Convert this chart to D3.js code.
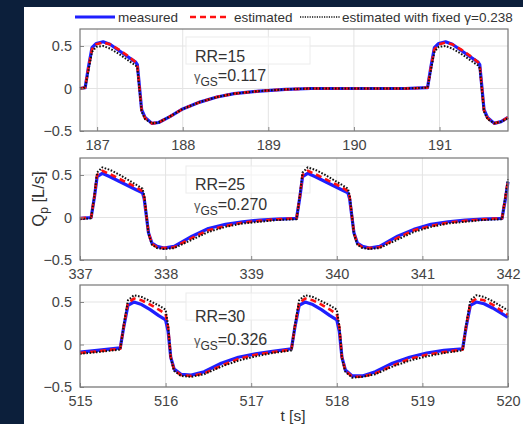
<!DOCTYPE html>
<html>
<head>
<meta charset="utf-8">
<script src="https://cdn.jsdelivr.net/npm/d3@7"></script>
<style>
  body { margin: 0; background: #0c1f3b; }
  svg { display: block; font-family: "Liberation Sans", Arial, sans-serif; }
  .tick text { fill: #444; font-size: 14.5px; }
  .grid line { stroke: #e3e3e3; stroke-width: 1; }
</style>
</head>
<body>
<script>
// W and H
var w = 523;
var h = 424;

// panel labels
var rrLabels = ["RR=15", "RR=25", "RR=30"];
var gammaLabels = ["=0.117", "=0.270", "=0.326"];
var yTicks = [-0.5, 0, 0.5];

// x domains (s) and tick values per panel
var xDomains = [[186.8, 191.8], [337, 342], [515, 520]];
var xTicks = [[187, 188, 189, 190, 191], [337, 338, 339, 340, 341, 342], [515, 516, 517, 518, 519, 520]];

// RR=15 traces
var t1 = [186.80, 186.86, 186.90, 186.94, 186.99, 187.07, 187.15, 187.25, 187.35, 187.45, 187.47, 187.52, 187.56, 187.64, 187.72, 187.85, 188.00, 188.20, 188.40, 188.60, 188.90, 189.20, 189.50, 189.90, 190.30, 190.60, 190.86, 190.90, 190.94, 190.99, 191.07, 191.15, 191.25, 191.35, 191.45, 191.47, 191.52, 191.56, 191.64, 191.72, 191.80];
var meas1 = [0.00, 0.01, 0.26, 0.48, 0.53, 0.55, 0.52, 0.45, 0.38, 0.31, 0.28, -0.25, -0.34, -0.41, -0.40, -0.33, -0.24, -0.16, -0.10, -0.06, -0.03, -0.01, 0.00, 0.00, 0.00, 0.00, 0.01, 0.26, 0.48, 0.53, 0.55, 0.52, 0.45, 0.38, 0.31, 0.28, -0.25, -0.34, -0.41, -0.39, -0.34];
var est1 = [0.00, 0.01, 0.25, 0.46, 0.52, 0.54, 0.52, 0.46, 0.39, 0.31, 0.27, -0.26, -0.35, -0.41, -0.40, -0.33, -0.24, -0.16, -0.10, -0.06, -0.03, -0.01, 0.00, 0.00, 0.00, 0.00, 0.01, 0.25, 0.46, 0.52, 0.54, 0.52, 0.46, 0.39, 0.31, 0.27, -0.26, -0.35, -0.41, -0.39, -0.34];
var fix1 = [0.00, 0.01, 0.22, 0.43, 0.49, 0.50, 0.47, 0.41, 0.34, 0.27, 0.24, -0.27, -0.36, -0.41, -0.40, -0.33, -0.24, -0.16, -0.10, -0.06, -0.03, -0.01, 0.00, 0.00, 0.00, 0.00, 0.01, 0.22, 0.43, 0.49, 0.50, 0.47, 0.41, 0.34, 0.27, 0.24, -0.27, -0.36, -0.41, -0.39, -0.35];

// RR=25 traces
var t2 = [337.00, 337.13, 337.17, 337.20, 337.26, 337.35, 337.45, 337.55, 337.65, 337.73, 337.75, 337.80, 337.84, 337.90, 337.98, 338.10, 338.31, 338.50, 338.70, 338.90, 339.10, 339.30, 339.53, 339.57, 339.60, 339.66, 339.75, 339.85, 339.95, 340.05, 340.13, 340.15, 340.20, 340.24, 340.30, 340.38, 340.50, 340.71, 340.90, 341.10, 341.30, 341.50, 341.70, 341.93, 341.97, 342.00];
var meas2 = [-0.01, 0.00, 0.25, 0.48, 0.52, 0.48, 0.43, 0.38, 0.33, 0.29, 0.22, -0.18, -0.30, -0.34, -0.36, -0.34, -0.22, -0.13, -0.08, -0.05, -0.03, -0.02, -0.01, 0.25, 0.48, 0.52, 0.48, 0.43, 0.38, 0.33, 0.29, 0.22, -0.18, -0.30, -0.34, -0.36, -0.34, -0.22, -0.14, -0.08, -0.05, -0.03, -0.02, -0.01, 0.22, 0.42];
var est2 = [-0.01, 0.00, 0.26, 0.50, 0.55, 0.51, 0.46, 0.41, 0.36, 0.31, 0.24, -0.18, -0.31, -0.35, -0.36, -0.35, -0.24, -0.15, -0.10, -0.06, -0.04, -0.02, -0.01, 0.26, 0.50, 0.55, 0.51, 0.46, 0.41, 0.36, 0.31, 0.24, -0.18, -0.31, -0.35, -0.36, -0.35, -0.24, -0.15, -0.10, -0.06, -0.04, -0.02, -0.01, 0.24, 0.44];
var fix2 = [-0.02, -0.01, 0.27, 0.53, 0.59, 0.56, 0.51, 0.45, 0.39, 0.34, 0.26, -0.19, -0.32, -0.36, -0.37, -0.36, -0.26, -0.17, -0.11, -0.07, -0.05, -0.03, -0.02, 0.27, 0.53, 0.59, 0.56, 0.51, 0.45, 0.39, 0.34, 0.26, -0.19, -0.32, -0.36, -0.37, -0.36, -0.26, -0.17, -0.11, -0.07, -0.05, -0.03, -0.02, 0.25, 0.45];

// RR=30 traces
var t3 = [515.00, 515.20, 515.47, 515.51, 515.56, 515.63, 515.72, 515.82, 515.92, 516.00, 516.03, 516.06, 516.10, 516.18, 516.30, 516.45, 516.65, 516.85, 517.05, 517.25, 517.47, 517.51, 517.56, 517.63, 517.72, 517.82, 517.92, 518.00, 518.03, 518.06, 518.10, 518.18, 518.30, 518.45, 518.65, 518.85, 519.05, 519.25, 519.47, 519.51, 519.56, 519.63, 519.72, 519.82, 519.92, 520.00];
var meas3 = [-0.09, -0.07, -0.04, 0.20, 0.46, 0.50, 0.47, 0.41, 0.34, 0.29, 0.15, -0.15, -0.29, -0.35, -0.36, -0.32, -0.22, -0.15, -0.11, -0.08, -0.05, 0.20, 0.46, 0.50, 0.47, 0.41, 0.34, 0.29, 0.15, -0.15, -0.30, -0.37, -0.37, -0.32, -0.22, -0.15, -0.10, -0.07, -0.05, 0.20, 0.46, 0.50, 0.48, 0.43, 0.37, 0.32];
var est3 = [-0.10, -0.08, -0.05, 0.21, 0.49, 0.54, 0.52, 0.47, 0.41, 0.36, 0.20, -0.15, -0.30, -0.36, -0.37, -0.34, -0.25, -0.17, -0.12, -0.09, -0.06, 0.21, 0.49, 0.54, 0.52, 0.47, 0.41, 0.36, 0.20, -0.15, -0.31, -0.38, -0.38, -0.34, -0.25, -0.17, -0.12, -0.09, -0.06, 0.21, 0.49, 0.54, 0.52, 0.47, 0.40, 0.35];
var fix3 = [-0.11, -0.09, -0.06, 0.22, 0.52, 0.58, 0.56, 0.51, 0.46, 0.41, 0.22, -0.16, -0.31, -0.37, -0.38, -0.35, -0.26, -0.19, -0.14, -0.10, -0.07, 0.22, 0.52, 0.58, 0.56, 0.51, 0.46, 0.41, 0.22, -0.16, -0.32, -0.39, -0.38, -0.35, -0.26, -0.19, -0.14, -0.10, -0.07, 0.22, 0.52, 0.58, 0.56, 0.51, 0.45, 0.40];

var times = [t1, t2, t3];
var measured = [meas1, meas2, meas3];
var estimated = [est1, est2, est3];
var fixedGamma = [fix1, fix2, fix3];

// layout
var left = 80, right = 508, ph = 102;
var tops = [29, 158, 285];
var rrOffset = [33, 32, 37];
var gOffset = [52, 52, 60];

var styles = [
  {name: "measured", color: "#1f1fff", width: 3.2, dash: null},
  {name: "estimated", color: "#ff1010", width: 2.6, dash: "6,4"},
  {name: "estimated with fixed \u03b3=0.238", color: "#111", width: 2, dash: "1.6,1.6"}
];

var svg = d3.select("body").append("svg")
  .attr("width", w)
  .attr("height", h);

// white figure area
svg.append("rect")
  .attr("x", 24).attr("y", 7)
  .attr("width", w - 24).attr("height", h - 7)
  .attr("fill", "#fff");

var x = d3.scaleLinear().range([left, right]);

tops.forEach(function(top, i) {
  x.domain(xDomains[i]);
  var y = d3.scaleLinear().domain([-0.5, 0.7]).range([top + ph, top]);

  var g = svg.append("g");

  // grid
  g.append("g").attr("class", "grid")
    .selectAll("line.v").data(xTicks[i]).enter().append("line")
    .attr("x1", function(d) { return x(d); }).attr("x2", function(d) { return x(d); })
    .attr("y1", top).attr("y2", top + ph);
  g.append("g").attr("class", "grid")
    .selectAll("line.h").data(yTicks).enter().append("line")
    .attr("x1", left).attr("x2", right)
    .attr("y1", function(d) { return y(d); }).attr("y2", function(d) { return y(d); });

  // annotation box
  g.append("rect")
    .attr("x", 186).attr("y", top + 8)
    .attr("width", 124).attr("height", 27)
    .attr("fill", "#fff").attr("fill-opacity", 0.6)
    .attr("stroke", "#ececec");

  // traces
  var data = d3.range(times[i].length).map(function(k) {
    return {t: times[i][k], m: measured[i][k], e: estimated[i][k], f: fixedGamma[i][k]};
  });
  ["m", "e", "f"].forEach(function(key, s) {
    var line = d3.line()
      .x(function(d) { return x(d.t); })
      .y(function(d) { return y(d[key]); });
    g.append("path")
      .datum(data)
      .attr("fill", "none")
      .attr("stroke", styles[s].color)
      .attr("stroke-width", styles[s].width)
      .attr("stroke-dasharray", styles[s].dash)
      .attr("stroke-linejoin", "round")
      .attr("d", line);
  });

  // annotation text
  g.append("text")
    .attr("x", 195).attr("y", top + rrOffset[i])
    .attr("fill", "#333").style("font-size", "16px")
    .text(rrLabels[i]);
  var gt = g.append("text")
    .attr("x", 194).attr("y", top + gOffset[i])
    .attr("fill", "#333").style("font-size", "16px");
  gt.append("tspan").style("font-size", "13px").attr("fill", "#555").text("\u03b3");
  gt.append("tspan").attr("dy", 5).style("font-size", "12px").text("GS");
  gt.append("tspan").attr("dy", -5).text(gammaLabels[i]);

  // axes
  var xAxis = d3.axisBottom(x).tickValues(xTicks[i]).tickSize(-4).tickPadding(9).tickFormat(d3.format("d"));
  var yAxis = d3.axisLeft(y).tickValues(yTicks).tickSize(-4).tickPadding(8).tickFormat(function(d) { return d === 0 ? "0" : d3.format(".1f")(d); });

  var xa = g.append("g").attr("transform", "translate(0," + (top + ph) + ")").call(xAxis);
  var ya = g.append("g").attr("transform", "translate(" + left + ",0)").call(yAxis);
  [xa, ya].forEach(function(a) {
    a.select(".domain").remove();
    a.selectAll(".tick line").attr("stroke", "#888");
  });

  // box
  g.append("rect")
    .attr("x", left).attr("y", top)
    .attr("width", right - left).attr("height", ph)
    .attr("fill", "none").attr("stroke", "#777").attr("stroke-width", 1.2);
});

// legend
var legX = [75, 190, 300];
var legTextX = [118, 234, 342];
styles.forEach(function(s, i) {
  svg.append("line")
    .attr("x1", legX[i]).attr("x2", legX[i] + 40)
    .attr("y1", 17).attr("y2", 17)
    .attr("stroke", s.color)
    .attr("stroke-width", i === 2 ? 1.6 : s.width)
    .attr("stroke-dasharray", i === 2 ? "1.2,1.2" : s.dash);
  svg.append("text")
    .attr("x", legTextX[i]).attr("y", 21.5)
    .attr("fill", "#333").style("font-size", "13.5px")
    .text(s.name);
});

// axis titles
var yl = svg.append("text")
  .attr("transform", "translate(44,199) rotate(-90)")
  .attr("text-anchor", "middle")
  .attr("fill", "#333").style("font-size", "16.5px");
yl.append("tspan").text("Q");
yl.append("tspan").attr("dy", 4).style("font-size", "12px").text("p");
yl.append("tspan").attr("dy", -4).text(" [L/s]");

svg.append("text")
  .attr("x", 293).attr("y", 421)
  .attr("text-anchor", "middle")
  .attr("fill", "#333").style("font-size", "15.5px")
  .text("t [s]");
</script>
</body>
</html>
